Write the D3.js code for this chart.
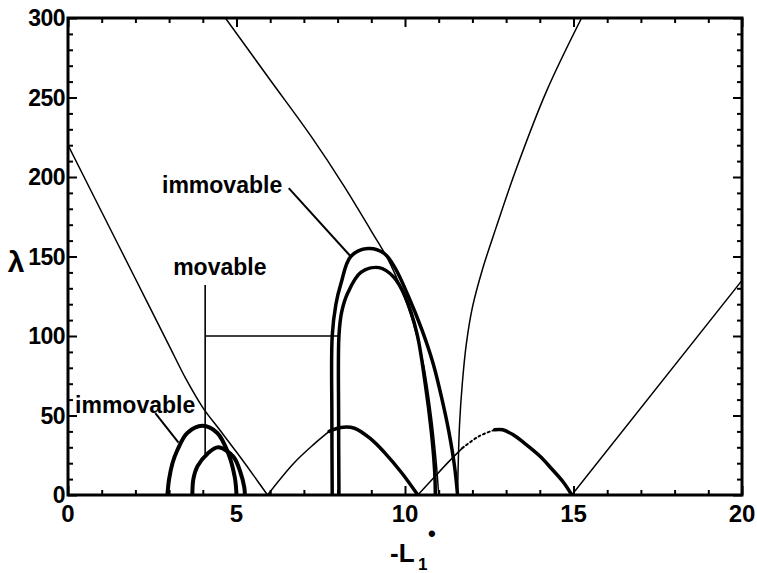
<!DOCTYPE html>
<html>
<head>
<meta charset="utf-8">
<script src="https://cdn.jsdelivr.net/npm/d3@7"></script>
<style>
  body { margin: 0; background: #fff; }
  text { font-family: "Liberation Sans", Arial, sans-serif; font-weight: bold; fill: #000; }
</style>
</head>
<body>
<script>
// curves, each point is [ -L1*, lambda ]
var thinA = [[0, 220], [1, 178], [2, 136], [3, 94], [3.5, 73], [4.0, 55], [4.5, 41], [5.0, 27], [5.5, 12.5], [5.92, 0]];
var thinB = [[4.67, 300], [6, 261], [7.2, 226], [8.2, 194], [9.0, 166], [9.5, 148], [9.9, 129], [10.25, 108], [10.55, 82], [10.78, 50], [10.92, 22], [11.0, 0]];
var thinC = [[11.56, 0], [11.58, 20], [11.62, 45], [11.7, 70], [11.82, 95], [12.0, 118], [12.3, 142], [12.7, 168], [13.3, 205], [14.2, 254], [15.24, 300]];
var thinD = [[14.95, 0], [20, 135]];

// arches between the zeros: thin rising part, thick falling part
var arch1Thin = [[5.92, 0], [6.7, 20], [7.3, 32], [7.75, 40]];
var arch1Thick = [[7.75, 40], [8.1, 42.5], [8.5, 42], [9.0, 35], [9.38, 27], [9.9, 14], [10.38, 0]];
var arch2Thin = [[10.38, 0], [10.86, 11], [11.3, 21], [11.7, 29.5]];
var arch2Dots = [[11.7, 29.5], [12.2, 37], [12.66, 41]];
var arch2Thick = [[12.66, 41], [12.9, 41], [13.2, 38], [13.55, 32.5], [14.0, 24.5], [14.35, 16.5], [14.7, 8], [14.95, 0]];

// small arcs
var smallImmovable = [[2.95, 0], [3.0, 10], [3.1, 20], [3.24, 28], [3.54, 39], [3.99, 43.5], [4.43, 39], [4.76, 26], [4.95, 11], [5.0, 0]];
var smallMovable = [[3.69, 0], [3.72, 10], [3.84, 18], [4.14, 26], [4.46, 30], [4.91, 24], [5.12, 14], [5.23, 5], [5.25, 0]];

// big arcs
var bigImmovable = [[7.84, 0], [7.83, 50], [7.84, 100], [7.95, 120], [8.1, 133], [8.39, 150], [8.9, 155], [9.38, 152], [9.7, 143], [10.1, 125], [10.5, 104], [10.83, 83], [11.1, 60], [11.3, 40], [11.47, 18], [11.56, 0]];
var bigMovable = [[8.04, 0], [8.03, 50], [8.04, 100], [8.12, 115], [8.3, 127], [8.69, 140], [9.23, 143], [9.67, 137], [10.0, 125], [10.35, 102], [10.6, 70], [10.78, 40], [10.88, 15], [10.9, 0]];

// leader lines for the labels
var leaderTop = [[6.55, 193], [8.39, 150]];
var leaderMovV = [[4.07, 132], [4.07, 25]];
var leaderMovH = [[4.07, 100], [8.04, 100]];
var leaderLow = [[2.59, 51.5], [3.28, 33]];

var xMajor = [0, 5, 10, 15, 20];
var yMajor = [0, 50, 100, 150, 200, 250, 300];
var xMinor = d3.range(0, 21, 1).filter(function(d) { return d % 5 != 0; });
var yMinor = d3.range(0, 301, 10).filter(function(d) { return d % 50 != 0; });

var W = 757, H = 573;
var svg = d3.select("body").append("svg").attr("width", W).attr("height", H);

var x = d3.scaleLinear().domain([0, 20]).range([68, 742]);
var y = d3.scaleLinear().domain([0, 300]).range([495, 18]);

var line = d3.line()
  .x(function(d) { return x(d[0]); })
  .y(function(d) { return y(d[1]); })
  .curve(d3.curveCatmullRom.alpha(0.5));
var straight = d3.line()
  .x(function(d) { return x(d[0]); })
  .y(function(d) { return y(d[1]); });

svg.append("clipPath").attr("id", "plot")
  .append("rect").attr("x", 68).attr("y", 18).attr("width", 674).attr("height", 477);

var g = svg.append("g").attr("clip-path", "url(#plot)");

function curve(pts, w, dash) {
  var p = g.append("path").attr("d", line(pts))
    .attr("fill", "none").attr("stroke", "#000")
    .attr("stroke-width", w).attr("stroke-linejoin", "round").attr("stroke-linecap", "round");
  if (dash) p.attr("stroke-dasharray", dash);
  return p;
}

// thin curves
curve(thinA, 1.5);
curve(thinB, 1.5);
curve(thinC, 1.5);
curve(thinD, 1.5);
curve(arch1Thin, 1.5);
curve(arch2Thin, 1.5);
curve(arch2Dots, 2, "2,3");

// thick curves
curve(arch1Thick, 3.5);
curve(arch2Thick, 3.5);
curve(smallImmovable, 4);
curve(smallMovable, 4);
curve(bigImmovable, 3.5);
curve(bigMovable, 3.5);

// leaders
[leaderTop, leaderLow].forEach(function(l) {
  svg.append("path").attr("d", straight(l)).attr("stroke", "#000").attr("stroke-width", 2);
});
[leaderMovV, leaderMovH].forEach(function(l) {
  svg.append("path").attr("d", straight(l)).attr("stroke", "#000").attr("stroke-width", 1.6);
});

// labels
svg.append("text").attr("x", x(2.79)).attr("y", y(190)).style("font-size", "23px").text("immovable");
svg.append("text").attr("x", x(3.12)).attr("y", y(138.4)).style("font-size", "23px").text("movable");
svg.append("text").attr("x", x(0.21)).attr("y", y(51.6)).style("font-size", "23px").text("immovable");

// axes, ticks pointing inward on all four sides
function ticks(axis, vals, size) {
  return axis.tickValues(vals).tickSize(size).tickFormat("");
}
var axes = [
  [d3.axisBottom, "translate(0,495)", x, xMajor, xMinor],
  [d3.axisTop, "translate(0,18)", x, xMajor, xMinor],
  [d3.axisLeft, "translate(68,0)", y, yMajor, yMinor],
  [d3.axisRight, "translate(742,0)", y, yMajor, yMinor]
];
axes.forEach(function(a) {
  var gm = svg.append("g").attr("transform", a[1]).call(ticks(a[0](a[2]), a[3], -9));
  gm.select(".domain").remove();
  gm.selectAll("line").attr("stroke-width", 2);
  var gn = svg.append("g").attr("transform", a[1]).call(ticks(a[0](a[2]), a[4], -5));
  gn.select(".domain").remove();
  gn.selectAll("line").attr("stroke-width", 2);
});

svg.append("rect").attr("x", 68).attr("y", 18).attr("width", 674).attr("height", 477)
  .attr("fill", "none").attr("stroke", "#000").attr("stroke-width", 3);

// tick labels
svg.selectAll(".xl").data(xMajor).enter().append("text")
  .attr("x", function(d) { return x(d); }).attr("y", 522)
  .attr("text-anchor", "middle").style("font-size", "24px")
  .text(function(d) { return d; });
svg.selectAll(".yl").data(yMajor).enter().append("text")
  .attr("x", 65).attr("y", function(d) { return y(d); }).attr("dy", "0.36em")
  .attr("text-anchor", "end").style("font-size", "23px").style("letter-spacing", "-0.5px")
  .text(function(d) { return d; });

// axis titles
svg.append("text").attr("x", 16).attr("y", 272).attr("text-anchor", "middle")
  .style("font-size", "30px").text("λ");

var xt = svg.append("text").attr("x", 390).attr("y", 562).style("font-size", "26px");
xt.append("tspan").text("-L");
xt.append("tspan").attr("x", 418).attr("y", 570).style("font-size", "17px").text("1");
xt.append("tspan").attr("x", 428).attr("y", 541).style("font-size", "22px").text("•");
</script>
</body>
</html>
